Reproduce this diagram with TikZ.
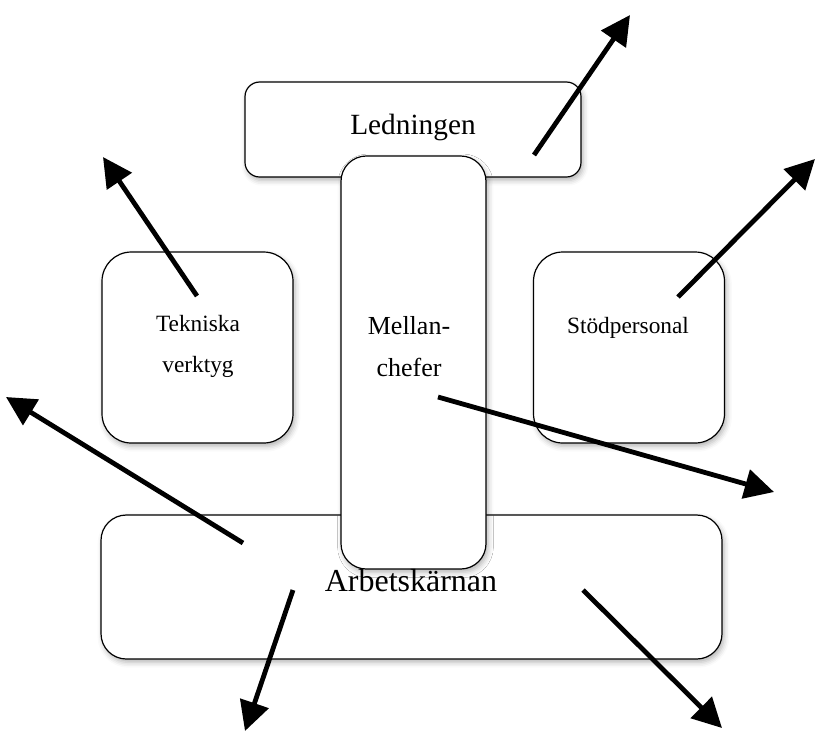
\documentclass[tikz,border=0pt]{standalone}
\usepackage{fontspec}
\setmainfont{Liberation Serif}
\usetikzlibrary{arrows.meta,shadows.blur}

\begin{document}
\begin{tikzpicture}[x=0.75pt,y=0.75pt,yscale=-1,xscale=1,
	box/.style={draw,line width=0.9pt,fill=white,inner sep=0pt,outer sep=0pt,rounded corners=#1,
		blur shadow={shadow xshift=1.5pt,shadow yshift=-2.5pt,shadow blur radius=4pt,shadow opacity=30}},
	box/.default=12pt,
	txt/.style={inner sep=0.75pt,align=center},
	pil/.style={line width=3.6pt,-{Triangle[length=22pt,width=22pt]}}]
		\useasboundingbox (0,0) rectangle (816,733);

		% rutor
		\node[box=11pt,minimum width=252pt,minimum height=71.25pt] (ledning) at (413,129.5) {};
		\node[box=22pt,minimum width=143.25pt,minimum height=143.25pt] (teknik) at (197.5,347.5) {};
		\node[box=22pt,minimum width=143.25pt,minimum height=143.25pt] (stod) at (629,347.5) {};
		\node[box=19pt,minimum width=465.75pt,minimum height=108pt] (kaerna) at (411.5,587) {};
		\node[box=19pt,minimum width=108.75pt,minimum height=309.75pt] (mellan) at (413.5,362.5) {};

		% texter
		\node[txt,font=\fontsize{22}{26}\selectfont] (ledningtxt) at (413,127) {Ledningen};
		\node[txt,font=\fontsize{17.5}{30.75}\selectfont] (teknitxt) at (198,346) {Tekniska\\verktyg};
		\node[txt,font=\fontsize{19.5}{31.5}\selectfont] (mellantxt) at (409,347) {Mellan-\\chefer};
		\node[txt,font=\fontsize{17.5}{21}\selectfont] (stodtxt) at (628,328) {Stödpersonal};
		\node[txt,font=\fontsize{24}{28}\selectfont] (kaernatxt) at (411,581) {Arbetskärnan};

		% pilar
		\coordinate (p1a) at (534,155);	\coordinate (p1b) at (630,15);
		\coordinate (p2a) at (197,296);	\coordinate (p2b) at (103,157);
		\coordinate (p3a) at (678,297);	\coordinate (p3b) at (815,159);
		\coordinate (p4a) at (243,543);	\coordinate (p4b) at (6,397);
		\coordinate (p5a) at (438,397);	\coordinate (p5b) at (774,492);
		\coordinate (p6a) at (293,590);	\coordinate (p6b) at (245,731);
		\coordinate (p7a) at (583,590);	\coordinate (p7b) at (722,728);
		\foreach \i in {1,...,7}
			\draw[pil] (p\i a) -- (p\i b);
	\end{tikzpicture}
\end{document}
